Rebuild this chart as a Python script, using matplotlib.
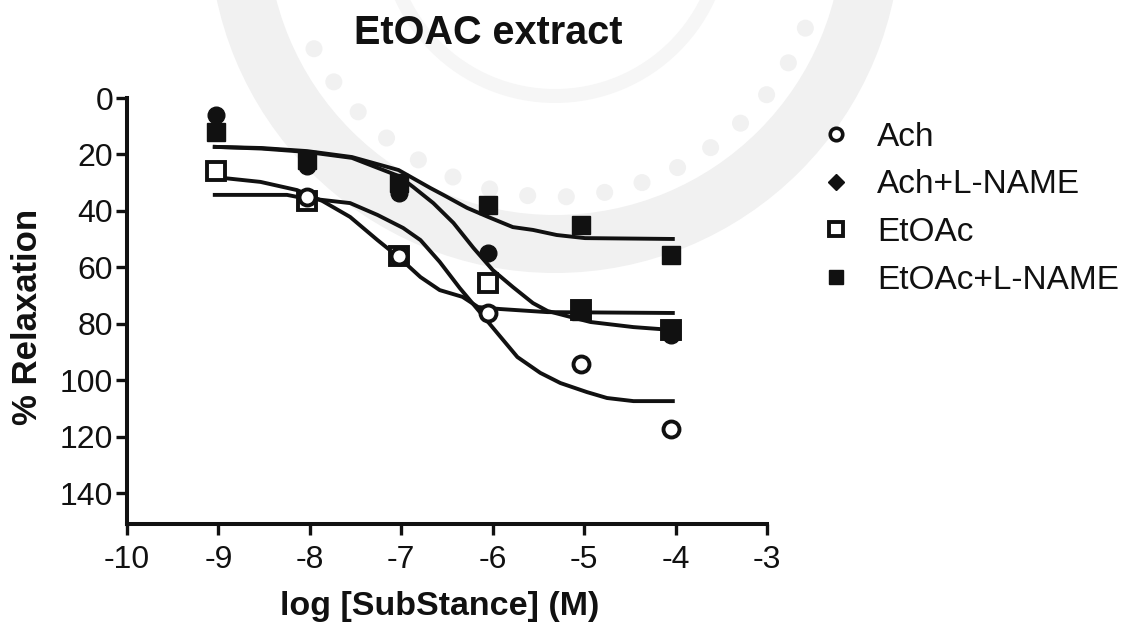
import numpy as np
import matplotlib
matplotlib.use("Agg")
import matplotlib.pyplot as plt
from matplotlib.lines import Line2D
from matplotlib.patches import Circle, Wedge

plt.rcParams['font.family'] = ['Liberation Sans', 'DejaVu Sans']
plt.rcParams['axes.unicode_minus'] = False

series_names = ["Ach", "Ach+L-NAME", "EtOAc", "EtOAc+L-NAME"]

ach_x = [-8.03, -7.03, -6.05, -5.03, -4.05]
ach_y = [35, 56, 76, 94, 117]
ach_name_x = [-9.03, -8.03, -7.03, -6.05, -5.03, -4.05]
ach_name_y = [6, 24, 33.5, 55, 75, 84]
etoac_x = [-9.03, -8.03, -7.03, -6.05, -5.03, -4.05]
etoac_y = [26, 36.5, 56, 65.5, 75, 82]
etoac_name_x = [-9.03, -8.03, -7.03, -6.05, -5.03, -5.03, -4.05, -4.05]
etoac_name_y = [12, 22, 30, 38, 45, 75.5, 55.5, 82]

ach_fit_x = [-9.04, -8.25, -8.14, -7.86, -7.56, -7.26, -6.98, -6.79, -6.58, -6.36, -6.14, -5.95, -5.73, -5.48, -5.26, -4.97, -4.75, -4.46, -4.03]
ach_fit_y = [34.3, 34.3, 35, 36.1, 37.2, 41.4, 46, 50.3, 58, 67.3, 75.8, 83.2, 91.7, 97.3, 100.9, 104.1, 106.2, 107.3, 107.3]
ach_name_fit_x = [-9.04, -8.53, -8.03, -7.54, -7.03, -6.87, -6.65, -6.43, -6.21, -6.0, -5.78, -5.56, -5.40, -5.15, -4.93, -4.46, -4.17, -4.03]
ach_name_fit_y = [17.3, 17.9, 19.1, 21.2, 27.6, 31.5, 37.2, 44.2, 53.1, 60.9, 66.9, 72.6, 75.4, 77.5, 79.3, 81.1, 81.8, 82.1]
etoac_fit_x = [-9.04, -8.54, -8.14, -7.86, -7.56, -7.26, -7.03, -6.79, -6.58, -6.33, -6.16, -5.92, -5.40, -4.03]
etoac_fit_y = [28, 29.7, 32.6, 36.5, 42.1, 50.3, 56.3, 63.4, 68, 70.4, 74, 74.7, 75.8, 76.1]
etoac_name_fit_x = [-9.04, -8.53, -8.03, -7.54, -7.03, -6.68, -6.54, -6.28, -6.05, -5.78, -5.56, -5.30, -4.99, -4.03]
etoac_name_fit_y = [17.3, 17.7, 18.8, 20.9, 25.5, 31.9, 34.3, 38.9, 42.1, 45.7, 46.7, 48.5, 49.6, 49.9]

x_ticks = [-10, -9, -8, -7, -6, -5, -4, -3]
y_ticks = [0, 20, 40, 60, 80, 100, 120, 140]

INK = '#111111'
SEAL = '#f1f1f1'
SEAL_LIGHT = '#f6f6f6'

fig = plt.figure(figsize=(11.35, 6.25), dpi=100)

# faint seal watermark behind the chart
bg = fig.add_axes([0, 0, 1, 1], zorder=-1)
bg.set_xlim(0, 1135)
bg.set_ylim(625, 0)
bg.axis('off')
cx, cy = 555, -73
bg.add_patch(Wedge((cx, cy), 346, 0, 360, width=58, color=SEAL, lw=0))
bg.add_patch(Wedge((cx, cy), 176, 0, 360, width=14, color=SEAL_LIGHT, lw=0))
for ang in np.arange(22, 160, 8.2):
    bg.add_patch(Circle((cx + 270 * np.cos(np.radians(ang)), cy + 270 * np.sin(np.radians(ang))),
                        8.5, color=SEAL, lw=0))

ax = fig.add_axes([127 / 1135, 1 - 524 / 625, 640 / 1135, 426 / 625])
ax.set_xlim(-10, -3)
ax.set_ylim(150.8, 0)

for fx, fy in [(ach_fit_x, ach_fit_y), (ach_name_fit_x, ach_name_fit_y),
               (etoac_fit_x, etoac_fit_y), (etoac_name_fit_x, etoac_name_fit_y)]:
    ax.plot(fx, fy, color=INK, lw=2.8, zorder=2, solid_joinstyle='round')

ax.plot(etoac_x, etoac_y, ls='none', marker='s', ms=13.5, mfc='white', mec=INK, mew=2.8, zorder=3)
ax.plot(ach_x, ach_y, ls='none', marker='o', ms=11.5, mfc='white', mec=INK, mew=2.8, zorder=4)
ax.plot(etoac_name_x, etoac_name_y, ls='none', marker='s', ms=13, color=INK, zorder=5)
ax.plot(ach_name_x, ach_name_y, ls='none', marker='o', ms=12, color=INK, zorder=6)

for side in ('top', 'right'):
    ax.spines[side].set_visible(False)
for side in ('left', 'bottom'):
    ax.spines[side].set_linewidth(2.9)
    ax.spines[side].set_color(INK)
ax.set_xticks(x_ticks)
ax.set_yticks(y_ticks)
ax.tick_params(axis='both', length=8, width=2.4, color=INK, labelsize=23, labelcolor=INK)
ax.tick_params(axis='x', pad=7)
ax.tick_params(axis='y', pad=2)
ax.patch.set_alpha(0)

fig.text(440 / 1135, 1 - 606 / 625, "log [SubStance] (M)", fontsize=24.5, fontweight='bold',
         ha='center', va='center', color=INK)
fig.text(28 / 1135, 1 - 317 / 625, "% Relaxation", fontsize=25, fontweight='bold', rotation=90,
         ha='center', va='center', color=INK)
fig.text(488 / 1135, 1 - 33 / 625, "EtOAC extract", fontsize=28.5, fontweight='bold',
         ha='center', va='center', color=INK)

leg_handles = [
    Line2D([], [], ls='none', marker='o', ms=9, mfc='white', mec=INK, mew=2.6),
    Line2D([], [], ls='none', marker='D', ms=8.5, color=INK),
    Line2D([], [], ls='none', marker='s', ms=10.5, mfc='white', mec=INK, mew=2.8),
    Line2D([], [], ls='none', marker='s', ms=9.5, color=INK),
]
fig.legend(leg_handles, series_names, loc='upper left', bbox_to_anchor=(803 / 1135, 1 - 105 / 625),
           frameon=False, fontsize=24, labelspacing=0.5, handletextpad=0.72, handlelength=1.0,
           borderpad=0, labelcolor=INK)

fig.savefig("out.png", dpi=100)
